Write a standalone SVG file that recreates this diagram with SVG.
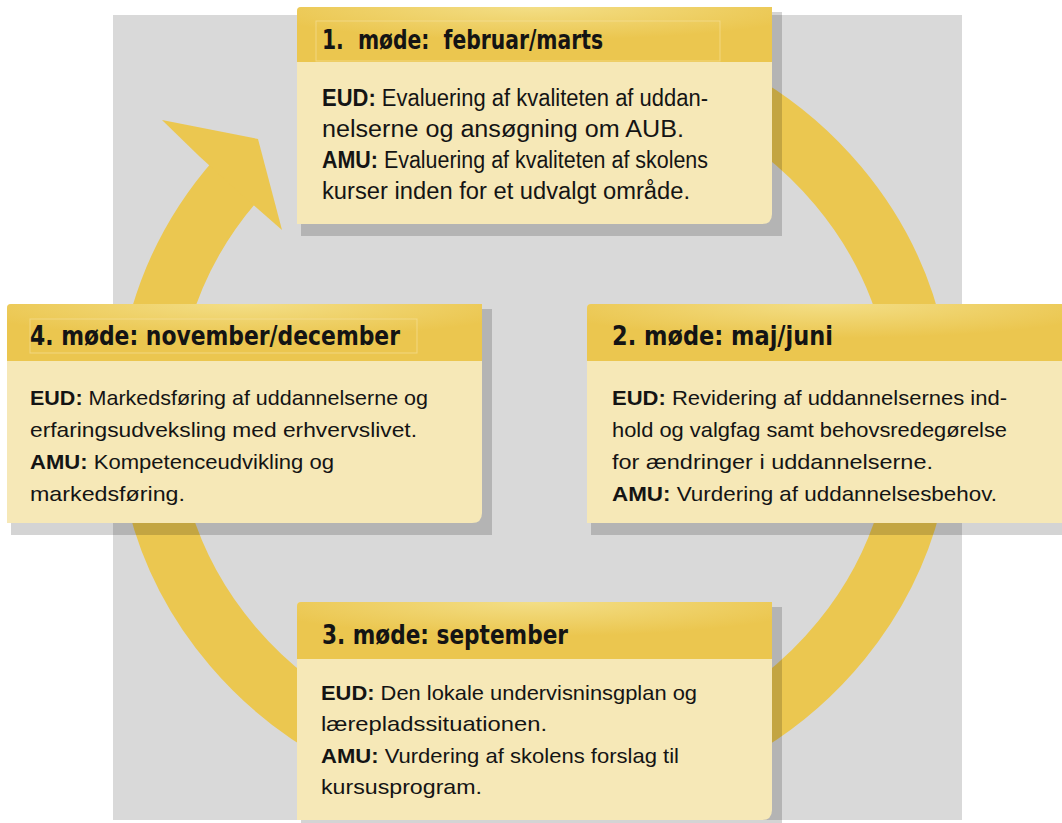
<svg xmlns="http://www.w3.org/2000/svg" width="1062" height="823" viewBox="0 0 1062 823">
<defs>
<radialGradient id="hg" cx="0.5" cy="0" r="0.6">
<stop offset="0" stop-color="#F3DE86"/>
<stop offset="1" stop-color="#EBC64F"/>
</radialGradient>
<style>
.shadow{fill:#000;fill-opacity:0.17}
.body{fill:#F6E8B7}
.head{fill:url(#hg)}
.frame{fill:none;stroke:#F6E3A0;stroke-width:1;stroke-opacity:0.6}
.ht{font-family:"DejaVu Sans Condensed","DejaVu Sans",sans-serif;font-weight:bold;font-size:26px;fill:#141414}
.bt{font-family:"Liberation Sans",Arial,sans-serif;font-size:21px;fill:#141414}
.bt1{font-size:23px}
.b{font-weight:bold}
.ring{fill:none;stroke:#EBC750;stroke-width:60}
.ah{fill:#EBC750}
</style>
</defs>
<rect x="0" y="0" width="1062" height="823" fill="#FFFFFF"/>
<rect x="113" y="15" width="849" height="805" fill="#D9D9D9"/>

<g id="connectors">
<path class="ring" d="M533,47 A388,368 0 1 1 237.3,178.5"/>
<polygon class="ah" points="199,156 162,120 258,139 282,230 243,196"/>
</g>

<g id="node1">
<rect class="shadow" x="301" y="12" width="481" height="224"/>
<path class="body" d="M301,7 H772 V214 Q772,224 762,224 H297 V11 Q297,7 301,7 Z"/>
<path class="head" d="M301,7 H772 V62 H297 V11 Q297,7 301,7 Z"/>
<rect class="frame" x="316" y="21" width="404" height="40"/>
<text class="ht" x="322" y="49" textLength="281" lengthAdjust="spacingAndGlyphs" xml:space="preserve">1.  møde:  februar/marts</text>
<text class="bt bt1" x="322" y="106" textLength="386" lengthAdjust="spacingAndGlyphs"><tspan class="b">EUD:</tspan> Evaluering af kvaliteten af uddan-</text>
<text class="bt bt1" x="322" y="137" textLength="362" lengthAdjust="spacingAndGlyphs">nelserne og ansøgning om AUB.</text>
<text class="bt bt1" x="322" y="168" textLength="386" lengthAdjust="spacingAndGlyphs"><tspan class="b">AMU:</tspan> Evaluering af kvaliteten af skolens</text>
<text class="bt bt1" x="322" y="199" textLength="368" lengthAdjust="spacingAndGlyphs">kurser inden for et udvalgt område.</text>
</g>

<g id="node2">
<rect class="shadow" x="591" y="309" width="490" height="226"/>
<path class="body" d="M591,304 H1070 V523 H587 V308 Q587,304 591,304 Z"/>
<path class="head" d="M591,304 H1070 V361 H587 V308 Q587,304 591,304 Z"/>
<text class="ht" x="612" y="345" textLength="221" lengthAdjust="spacingAndGlyphs">2. møde: maj/juni</text>
<text class="bt" x="612" y="405" textLength="395" lengthAdjust="spacingAndGlyphs"><tspan class="b">EUD:</tspan> Revidering af uddannelsernes ind-</text>
<text class="bt" x="612" y="437" textLength="395" lengthAdjust="spacingAndGlyphs">hold og valgfag samt behovsredegørelse</text>
<text class="bt" x="612" y="469" textLength="321" lengthAdjust="spacingAndGlyphs">for ændringer i uddannelserne.</text>
<text class="bt" x="612" y="501" textLength="385" lengthAdjust="spacingAndGlyphs"><tspan class="b">AMU:</tspan> Vurdering af uddannelsesbehov.</text>
</g>

<g id="node3">
<rect class="shadow" x="301" y="607" width="481" height="220"/>
<path class="body" d="M301,602 H772 V810 Q772,820 762,820 H297 V606 Q297,602 301,602 Z"/>
<path class="head" d="M301,602 H772 V659 H297 V606 Q297,602 301,602 Z"/>
<text class="ht" x="322" y="644" textLength="246" lengthAdjust="spacingAndGlyphs">3. møde: september</text>
<text class="bt" x="321" y="700" textLength="376" lengthAdjust="spacingAndGlyphs"><tspan class="b">EUD:</tspan> Den lokale undervisninsgplan og</text>
<text class="bt" x="321" y="731" textLength="226" lengthAdjust="spacingAndGlyphs">lærepladssituationen.</text>
<text class="bt" x="321" y="763" textLength="358" lengthAdjust="spacingAndGlyphs"><tspan class="b">AMU:</tspan> Vurdering af skolens forslag til</text>
<text class="bt" x="321" y="794" textLength="161" lengthAdjust="spacingAndGlyphs">kursusprogram.</text>
</g>

<g id="node4">
<rect class="shadow" x="11" y="309" width="481" height="226"/>
<path class="body" d="M11,304 H482 V513 Q482,523 472,523 H7 V308 Q7,304 11,304 Z"/>
<path class="head" d="M11,304 H482 V361 H7 V308 Q7,304 11,304 Z"/>
<rect class="frame" x="30" y="319" width="387" height="34"/>
<text class="ht" x="30" y="345" textLength="370" lengthAdjust="spacingAndGlyphs">4. møde: november/december</text>
<text class="bt" x="30" y="405" textLength="398" lengthAdjust="spacingAndGlyphs"><tspan class="b">EUD:</tspan> Markedsføring af uddannelserne og</text>
<text class="bt" x="30" y="437" textLength="387" lengthAdjust="spacingAndGlyphs">erfaringsudveksling med erhvervslivet.</text>
<text class="bt" x="30" y="469" textLength="304" lengthAdjust="spacingAndGlyphs"><tspan class="b">AMU:</tspan> Kompetenceudvikling og</text>
<text class="bt" x="30" y="501" textLength="155" lengthAdjust="spacingAndGlyphs">markedsføring.</text>
</g>
</svg>
